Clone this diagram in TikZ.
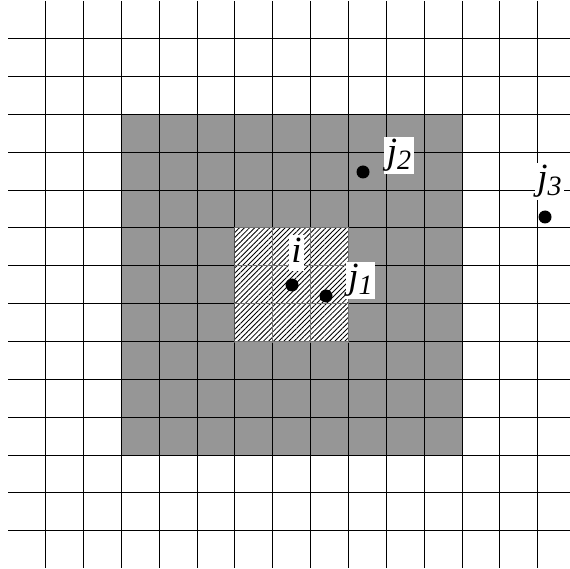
\documentclass[tikz,border=0pt]{standalone}
\usepackage{fontspec}
\setmainfont{Liberation Serif}
\usetikzlibrary{patterns.meta}
\definecolor{cellgray}{RGB}{150,150,150}
\newcommand{\lbl}[2]{{\fontsize{37}{37}\selectfont\itshape #1\raisebox{-0.15em}{\fontsize{28}{28}\selectfont #2}}}
\tikzset{
  gridline/.style={line width=1pt, black},
  innerline/.style={line width=1pt, black!55},
  dot/.style={circle, fill=black, inner sep=0pt, minimum size=13pt},
  lab/.style={fill=white, inner sep=2.5pt}
}
\begin{document}
\begin{tikzpicture}[x=1pt,y=-1pt]
\useasboundingbox (0,0) rectangle (570,569);
\def\sp{37.85}
% gray region
\fill[cellgray] (121.3,114.4) rectangle (461.7,455);
% hatched region
\fill[white] (235,228) rectangle (348.6,341.5);
\fill[pattern={Lines[angle=45,distance=3.6pt,line width=0.85pt]}] (235,228) rectangle (348.6,341.5);
% grid
\foreach \k in {0,...,13}{
  \draw[gridline] ({45.7+\k*\sp},1) -- ({45.7+\k*\sp},568);
  \draw[gridline] (8,{38.7+\k*\sp}) -- (570,{38.7+\k*\sp});
}
% grid lines inside hatched area (lighter)
\begin{scope}
\clip (234.4,227.4) rectangle (349.2,342.1);
\foreach \k in {5,...,8}{
  \draw[innerline] ({45.7+\k*\sp},1) -- ({45.7+\k*\sp},568);
  \draw[innerline] (8,{38.7+\k*\sp}) -- (570,{38.7+\k*\sp});
}
\end{scope}
% points
\node[dot] (pi) at (292,285) {};
\node[dot] (pj1) at (326,296) {};
\node[dot] (pj2) at (363,172) {};
\node[dot] (pj3) at (545,217) {};
% labels
\node[lab] (li) at (296.5,253) {\lbl{i}{}};
\node[lab] (lj1) at (360.5,280.5) {\lbl{j}{1}};
\node[lab] (lj2) at (399,155.5) {\lbl{j}{2}};
\node[lab] (lj3) at (549.5,181.5) {\lbl{j}{3}};
\end{tikzpicture}
\end{document}
